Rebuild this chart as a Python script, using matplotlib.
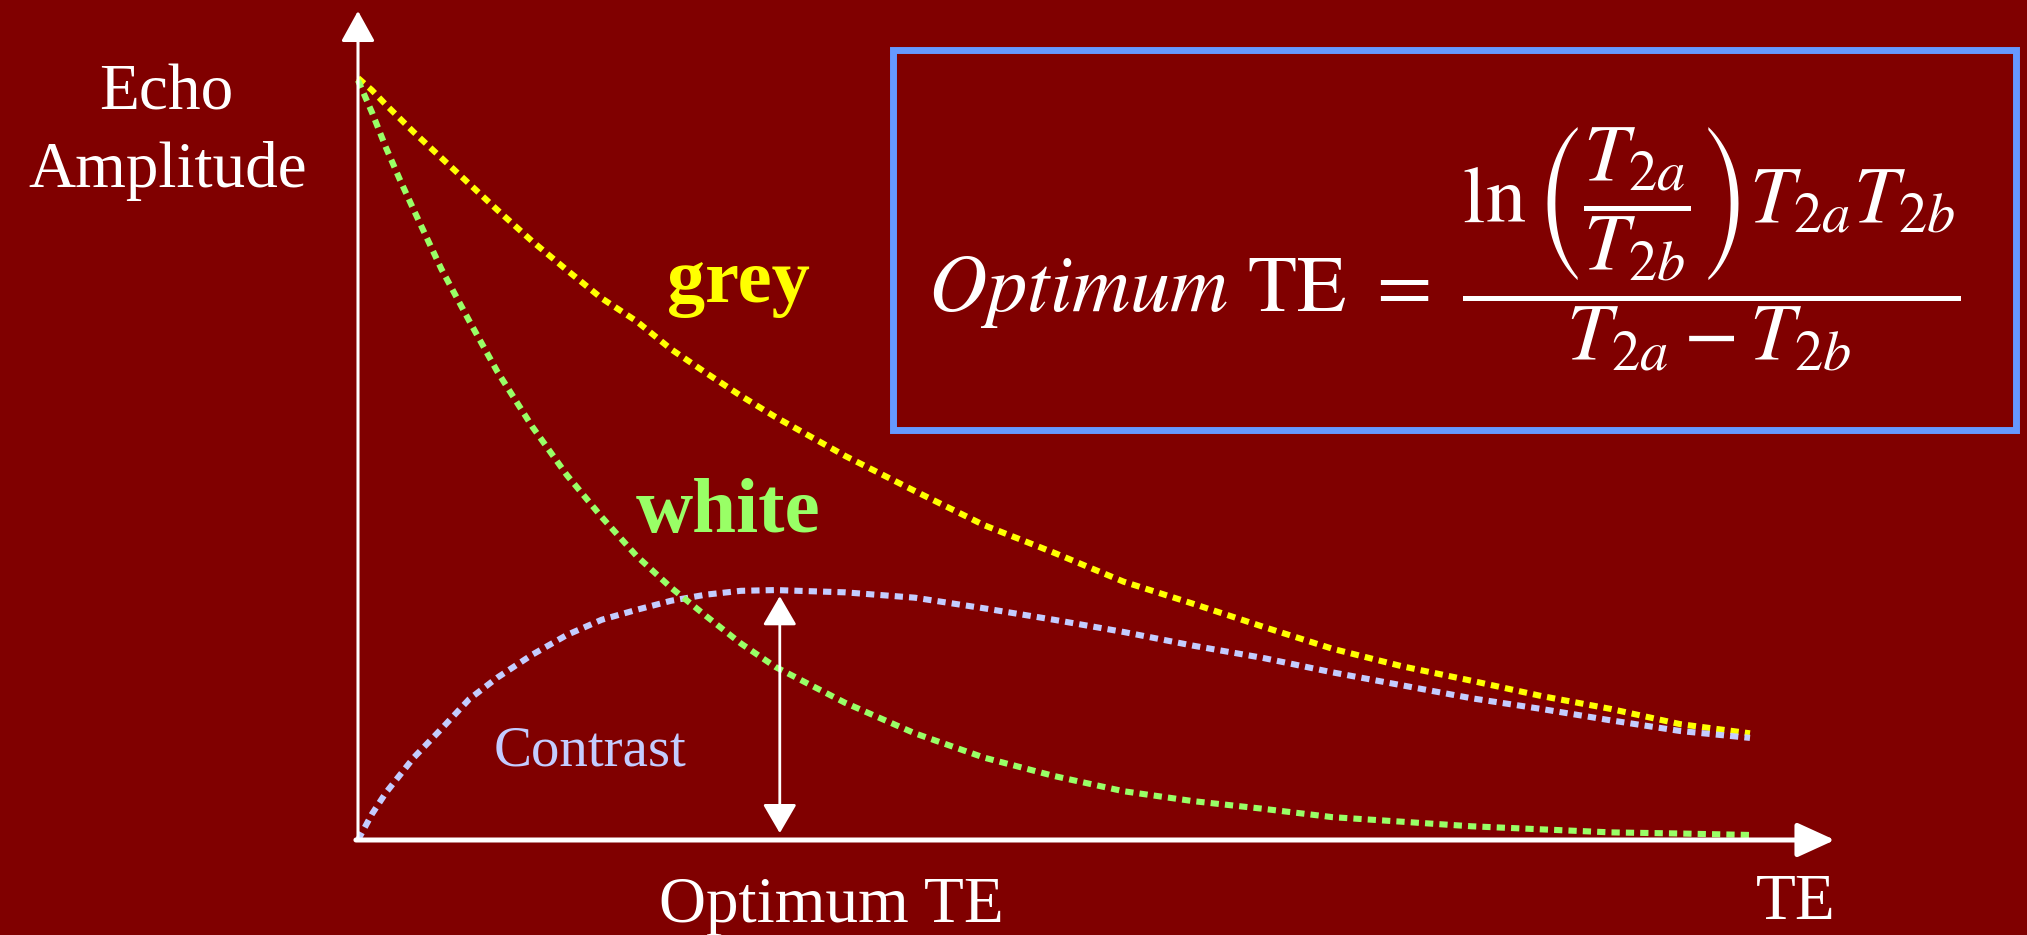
import matplotlib
matplotlib.use('Agg')
import matplotlib.pyplot as plt
from matplotlib.patches import Rectangle

plt.rcParams['mathtext.fontset'] = 'stix'
SERIF = ['Liberation Serif', 'DejaVu Serif']

# ---- data ----
te = [0, 1, 2, 3, 4, 6, 8, 10, 12.5, 15, 17.5, 20, 22.5, 25, 27.5, 30,
      35, 40, 45, 50, 55, 60, 65, 70, 75, 80, 85, 90, 95, 100]
grey = [1.000, 0.984, 0.965, 0.947, 0.929, 0.895, 0.861, 0.827, 0.786, 0.748,
        0.711, 0.681, 0.644, 0.613, 0.583, 0.555, 0.504, 0.458, 0.413, 0.377,
        0.339, 0.310, 0.280, 0.251, 0.228, 0.209, 0.189, 0.172, 0.152, 0.140]
white = [0.997, 0.955, 0.909, 0.867, 0.827, 0.749, 0.681, 0.615, 0.543, 0.479,
         0.424, 0.373, 0.331, 0.294, 0.258, 0.227, 0.180, 0.140, 0.108, 0.084,
         0.064, 0.051, 0.041, 0.030, 0.024, 0.018, 0.014, 0.010, 0.0085, 0.0066]
contrast = [0.000, 0.034, 0.062, 0.085, 0.108, 0.146, 0.185, 0.213, 0.243, 0.269,
            0.289, 0.302, 0.314, 0.322, 0.327, 0.328, 0.325, 0.318, 0.304, 0.289,
            0.273, 0.255, 0.239, 0.220, 0.203, 0.186, 0.172, 0.157, 0.143, 0.134]
optimum_te = 30.3
x_axis_end = 106.1
y_axis_end = 1.088

# ---- style ----
BG = '#800000'
YELLOW = '#FFFF00'
GREEN = '#99FF66'
LAVENDER = '#C4CCFF'
BOXBLUE = '#6699FF'

W, H = 2027, 935
fig = plt.figure(figsize=(W / 100, H / 100), dpi=100, facecolor=BG)
ax = fig.add_axes([0, 0, 1, 1])
ax.set_facecolor(BG)
ax.set_axis_off()
# pixel mapping: TE 0 -> x=358, TE 100 -> x=1750 ; A 0 -> y=840, A 1 -> y=78
sx = (1750 - 358) / 100.0
sy = (840 - 78) / 1.0
ax.set_xlim(-358 / sx, (W - 358) / sx)
ax.set_ylim((840 - H) / sy, 840 / sy)


def fp(x, y):
    return x / W, 1 - y / H


dots = (0, (1.35, 1.0))
lw = 4.4
ax.plot(te, grey, color=YELLOW, lw=lw, ls=dots, zorder=3)
ax.plot(te, contrast, color=LAVENDER, lw=lw, ls=dots, zorder=3)
ax.plot(te, white, color=GREEN, lw=lw, ls=dots, zorder=4)

# axes with arrows
ax.annotate('', xy=(0, y_axis_end), xytext=(0, 0),
            arrowprops=dict(arrowstyle='-|>,head_length=1.9,head_width=1.05',
                            mutation_scale=10, color='white', lw=2.2,
                            shrinkA=0, shrinkB=0), zorder=5)
ax.annotate('', xy=(x_axis_end, 0), xytext=(-0.15, 0),
            arrowprops=dict(arrowstyle='-|>,head_length=2.3,head_width=1.05',
                            mutation_scale=10, color='white', lw=3.6,
                            shrinkA=0, shrinkB=0), zorder=5)
# optimum TE double arrow
ax.annotate('', xy=(optimum_te, max(contrast) - 0.008), xytext=(optimum_te, 0.009),
            arrowprops=dict(arrowstyle='<|-|>,head_length=1.8,head_width=1.05',
                            mutation_scale=10, color='white', lw=2.0,
                            shrinkA=0, shrinkB=0), zorder=5)

# texts
fig.text(*fp(166, 110), 'Echo', color='white', fontsize=47, family=SERIF,
         ha='center', va='baseline')
fig.text(*fp(168, 187), 'Amplitude', color='white', fontsize=47, family=SERIF,
         ha='center', va='baseline')
fig.text(*fp(738, 302), 'grey', color=YELLOW, fontsize=55, family=SERIF,
         fontweight='bold', ha='center', va='baseline')
fig.text(*fp(728, 532), 'white', color=GREEN, fontsize=57, family=SERIF,
         fontweight='bold', ha='center', va='baseline')
fig.text(*fp(590, 765), 'Contrast', color=LAVENDER, fontsize=41, family=SERIF,
         ha='center', va='baseline')
fig.text(*fp(831, 922), 'Optimum TE', color='white', fontsize=47, family=SERIF,
         ha='center', va='baseline')
fig.text(*fp(1796, 919), 'TE', color='white', fontsize=47, family=SERIF,
         ha='center', va='baseline')

# formula box
x0, y0 = fp(892.5, 429.5)
x1, y1 = fp(2015.5, 49.5)
fig.patches.append(Rectangle((x0, y0), x1 - x0, y1 - y0, transform=fig.transFigure,
                             fill=False, edgecolor=BOXBLUE, lw=5))
formula = (r'$\mathit{Optimum}\ \mathrm{TE}\ =\ '
           r'\dfrac{\ln\left(\dfrac{T_{2a}}{T_{2b}}\right)T_{2a}T_{2b}}'
           r'{T_{2a}-T_{2b}}$')
fig.text(*fp(928, 312), formula, color='white', fontsize=58,
         ha='left', va='baseline')

fig.savefig('out.png', dpi=100, facecolor=BG)
